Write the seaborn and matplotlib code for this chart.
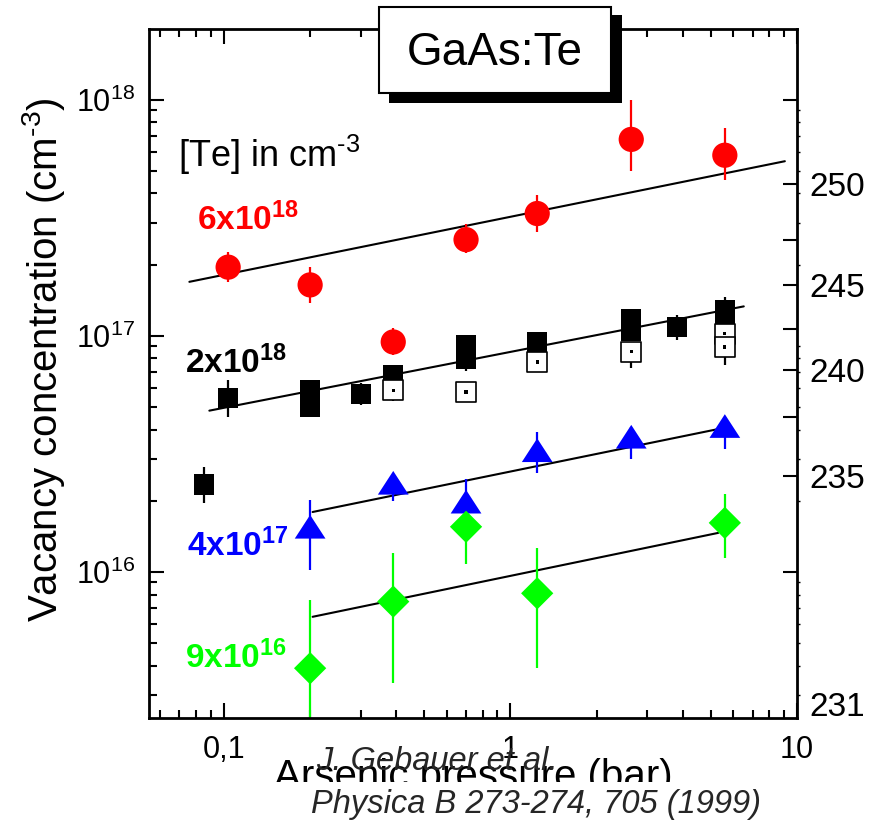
import numpy as np
import pandas as pd
import matplotlib
matplotlib.use("Agg")
import matplotlib.pyplot as plt
from matplotlib.patches import Rectangle
from matplotlib.path import Path
from matplotlib.markers import MarkerStyle
from matplotlib.ticker import (FixedLocator, FixedFormatter, LogLocator,
                               NullFormatter)
import seaborn as sns

# ---------------------------------------------------------------------------
# Data: arsenic pressure (bar) vs. Ga vacancy concentration (cm^-3)
# ---------------------------------------------------------------------------
# [Te] = 6x10^18
red_p = [0.1035, 0.2, 0.39, 0.70, 1.24, 2.64, 5.6]
red_c = [1.95e17, 1.64e17, 9.4e16, 2.55e17, 3.29e17, 6.78e17, 5.81e17]
red_lo = [1.68e17, 1.38e17, 8.26e16, 2.23e17, 2.74e17, 4.96e17, 4.58e17]
red_hi = [2.25e17, 1.95e17, 1.08e17, 2.97e17, 3.94e17, 1.0e18, 7.58e17]

# [Te] = 2x10^18, filled squares
blk_p = [0.085, 0.1035, 0.2, 0.2, 0.3, 0.39, 0.70, 0.70, 1.24, 2.64, 2.64,
         3.8, 5.6, 5.6]
blk_c = [2.34e16, 5.46e16, 5.88e16, 4.98e16, 5.64e16, 6.81e16, 9.1e16,
         8.0e16, 9.4e16, 1.18e17, 1.05e17, 1.09e17, 1.28e17, 1.18e17]
blk_lo = [1.95e16, 4.53e16, 5.3e16, 4.53e16, 5.06e16, 6.3e16, 8.4e16,
          7.1e16, 8.4e16, 1.1e17, 9.8e16, 9.55e16, 1.2e17, 1.1e17]
blk_hi = [2.78e16, 6.48e16, 6.48e16, 5.5e16, 6.27e16, 7.3e16, 1.0e17,
          8.6e16, 1.04e17, 1.28e17, 1.12e17, 1.22e17, 1.46e17, 1.25e17]

# [Te] = 2x10^18, open squares
hol_p = [0.39, 0.70, 1.24, 2.64, 5.6, 5.6]
hol_c = [5.88e16, 5.77e16, 7.73e16, 8.53e16, 1.02e17, 8.95e16]
hol_lo = [5.26e16, 5.26e16, 7.3e16, 7.27e16, 9.5e16, 7.51e16]
hol_hi = [6.48e16, 6.3e16, 8.2e16, 9.3e16, 1.1e17, 9.6e16]

# [Te] = 4x10^17
blu_p = [0.2, 0.39, 0.70, 1.24, 2.64, 5.6]
blu_c = [1.55e16, 2.38e16, 1.98e16, 3.27e16, 3.73e16, 4.14e16]
blu_lo = [1.02e16, 2.0e16, 1.7e16, 2.61e16, 2.99e16, 3.3e16]
blu_hi = [2.01e16, 2.6e16, 2.48e16, 3.92e16, 4.1e16, 4.5e16]

# [Te] = 9x10^16
grn_p = [0.2, 0.39, 0.70, 1.24, 5.6]
grn_c = [3.9e15, 7.47e15, 1.55e16, 8.1e15, 1.61e16]
grn_lo = [2.0e15, 3.37e15, 1.08e16, 3.9e15, 1.14e16]
grn_hi = [7.59e15, 1.2e16, 2.07e16, 1.26e16, 2.13e16]

# p^(1/4) fit lines (end points)
fit_red_p, fit_red_c = [0.0758, 9.07], [1.69e17, 5.48e17]
fit_blk_p, fit_blk_c = [0.089, 6.52], [4.81e16, 1.33e17]
fit_blu_p, fit_blu_c = [0.204, 5.31], [1.79e16, 4.02e16]
fit_grn_p, fit_grn_c = [0.204, 5.31], [6.44e15, 1.46e16]

# Axis ticks
x_ticks = [0.1, 1, 10]
x_tick_labels = ["0,1", "1", "10"]
# right axis: average positron lifetime (ps) placed at the equivalent concentration
tau_pos = [1.0e18, 4.4e17, 2.55e17, 1.64e17, 1.07e17, 7.14e16, 4.53e16,
           2.54e16, 1.0e16, 2.75e15]
tau_labels = ["", "250", "", "245", "", "240", "", "235", "", "231"]

RED, BLACK, BLUE, GREEN = "#ff0000", "#000000", "#0000ff", "#00ff00"

# ---------------------------------------------------------------------------
sns.set_theme(style="ticks")
plt.rcParams["font.family"] = ["Liberation Sans", "DejaVu Sans"]
plt.rcParams["mathtext.fontset"] = "custom"
plt.rcParams["mathtext.rm"] = "Liberation Sans"
plt.rcParams["mathtext.bf"] = "Liberation Sans:bold"
plt.rcParams["mathtext.it"] = "Liberation Sans:italic"
plt.rcParams["mathtext.default"] = "regular"

W, H = 881, 833


def fx(px):
    return px / W


def fy(py):
    return 1 - py / H


fig = plt.figure(figsize=(W / 100, H / 100), dpi=100)
fig.patch.set_facecolor("white")
ax = fig.add_axes([fx(149), fy(718), fx(797) - fx(149), fy(29) - fy(718)])
ax.set_facecolor("white")
ax.set_xscale("log")
ax.set_yscale("log")
ax.set_xlim(0.0548, 10)
ax.set_ylim(2.4e15, 1.99e18)

# fit lines
for px_, cy_ in [(fit_red_p, fit_red_c), (fit_blk_p, fit_blk_c),
                 (fit_blu_p, fit_blu_c), (fit_grn_p, fit_grn_c)]:
    sns.lineplot(x=px_, y=cy_, ax=ax, color="black", linewidth=1.5,
                 zorder=2, estimator=None, sort=False)


def errbars(p, c, lo, hi, color, z=2.5):
    c = np.asarray(c)
    ax.errorbar(p, c, yerr=[c - np.asarray(lo), np.asarray(hi) - c],
                fmt="none", ecolor=color, elinewidth=1.6, capsize=0,
                zorder=z)


errbars(red_p, red_c, red_lo, red_hi, RED)
errbars(blk_p, blk_c, blk_lo, blk_hi, BLACK)
errbars(hol_p, hol_c, hol_lo, hol_hi, BLACK, z=3.5)
errbars(blu_p, blu_c, blu_lo, blu_hi, BLUE)
errbars(grn_p, grn_c, grn_lo, grn_hi, GREEN)

tri = MarkerStyle(Path([(-1, -0.77), (1, -0.77), (0, 0.77), (-1, -0.77)],
                       [Path.MOVETO, Path.LINETO, Path.LINETO,
                        Path.CLOSEPOLY]))

sns.scatterplot(x=red_p, y=red_c, ax=ax, marker="o", s=330, color=RED,
                edgecolor="none", linewidth=0, zorder=3, legend=False)
sns.scatterplot(x=blk_p, y=blk_c, ax=ax, marker="s", s=210, color=BLACK,
                edgecolor="none", linewidth=0, zorder=3, legend=False)
sns.scatterplot(x=hol_p, y=hol_c, ax=ax, marker="s", s=200, color="white",
                edgecolor="black", linewidth=1.2, zorder=4, legend=False)
sns.scatterplot(x=hol_p, y=hol_c, ax=ax, marker="s", s=5, color="black",
                edgecolor="none", linewidth=0, zorder=4.5, legend=False)
sns.scatterplot(x=blu_p, y=blu_c, ax=ax, marker=tri, s=490, color=BLUE,
                edgecolor="none", linewidth=0, zorder=3, legend=False)
sns.scatterplot(x=grn_p, y=grn_c, ax=ax, marker="D", s=270, color=GREEN,
                edgecolor="none", linewidth=0, zorder=3, legend=False)

# axes styling
for sp in ["left", "bottom", "top"]:
    ax.spines[sp].set_linewidth(2)
    ax.spines[sp].set_color("black")
ax.spines["right"].set_visible(False)

ax.xaxis.set_major_locator(FixedLocator(x_ticks))
ax.xaxis.set_major_formatter(FixedFormatter(x_tick_labels))
ax.xaxis.set_minor_locator(LogLocator(base=10, subs=np.arange(2, 10)))
ax.xaxis.set_minor_formatter(NullFormatter())
ax.yaxis.set_major_locator(LogLocator(base=10, numticks=10))
ax.yaxis.set_minor_locator(LogLocator(base=10, subs=np.arange(2, 10),
                                      numticks=20))
ax.yaxis.set_minor_formatter(NullFormatter())
ax.tick_params(axis="both", which="both", direction="in", colors="black",
               top=True, bottom=True, left=True, right=False, width=1.5)
ax.tick_params(axis="both", which="major", length=11, labelsize=22)
ax.tick_params(axis="both", which="minor", length=5.5)
ax.tick_params(axis="x", which="major", pad=12)
ax.tick_params(axis="y", which="major", pad=10)
ax.set_xlabel("")
ax.set_ylabel("")
ax.grid(False)

# right axis: positron lifetime
ax2 = ax.twinx()
ax2.set_yscale("log")
ax2.set_ylim(ax.get_ylim())
for sp in ["left", "bottom", "top"]:
    ax2.spines[sp].set_visible(False)
ax2.spines["right"].set_linewidth(2)
ax2.spines["right"].set_color("black")
ax2.yaxis.set_major_locator(FixedLocator(tau_pos))
ax2.yaxis.set_major_formatter(FixedFormatter(tau_labels))
ax2.yaxis.set_minor_locator(LogLocator(base=10, subs=np.arange(2, 10),
                                       numticks=20))
ax2.yaxis.set_minor_formatter(NullFormatter())
ax2.tick_params(axis="y", which="major", direction="in", length=10,
                width=1.5, labelsize=24, pad=9, colors="black")
ax2.tick_params(axis="y", which="minor", direction="out", length=2.5,
                width=1, colors="black")
ax2.grid(False)
fig.canvas.draw()
ax2.yaxis.get_major_ticks()[-1].tick2line.set_visible(False)

# in-plot annotations
def atext(px, py, s, color, size, **kw):
    fig.text(fx(px), fy(py), s, color=color, fontsize=size, ha="left",
             va="baseline", **kw)


atext(178, 167, r"[Te] in cm$^{\text{-3}}$", "black", 26)
atext(197, 230, r"$\mathbf{6x10^{18}}$", RED, 24)
atext(185, 373, r"$\mathbf{2x10^{18}}$", BLACK, 24)
atext(187, 556, r"$\mathbf{4x10^{17}}$", BLUE, 24)
atext(185, 668, r"$\mathbf{9x10^{16}}$", GREEN, 24)

# axis titles
fig.text(fx(44), fy(360), r"Vacancy concentration (cm$^{\text{-3}}$)",
         rotation=90, ha="center", va="center", fontsize=29, color="black")
fig.text(fx(473), fy(788), "Arsenic pressure (bar)", ha="center",
         va="baseline", fontsize=29, color="black", zorder=3)

# reference, partly covering the axis title
fig.add_artist(Rectangle((fx(240), fy(833)), fx(740) - fx(240),
                         fy(782) - fy(833), transform=fig.transFigure,
                         facecolor="white", edgecolor="none", zorder=4))
cite_font = ["Liberation Sans Narrow", "Liberation Sans", "DejaVu Sans"]
fig.text(fx(316), fy(770), "J. Gebauer et al.", ha="left", va="baseline",
         fontsize=23.5, style="italic", family=cite_font, zorder=5)
fig.text(fx(311), fy(813), "Physica B 273-274, 705 (1999)", ha="left",
         va="baseline", fontsize=23.5, style="italic", family=cite_font,
         zorder=5)

# title box with drop shadow
fig.add_artist(Rectangle((fx(389), fy(103)), fx(621.7) - fx(389),
                         fy(15) - fy(103), transform=fig.transFigure,
                         facecolor="black", edgecolor="none", zorder=10))
fig.add_artist(Rectangle((fx(379), fy(93)), fx(611) - fx(379),
                         fy(7) - fy(93), transform=fig.transFigure,
                         facecolor="white", edgecolor="black",
                         linewidth=1.5, zorder=11))
fig.text(fx(495), fy(65), "GaAs:Te", ha="center", va="baseline",
         fontsize=33, color="black", zorder=12)

fig.savefig("out.png", dpi=100, facecolor="white")
